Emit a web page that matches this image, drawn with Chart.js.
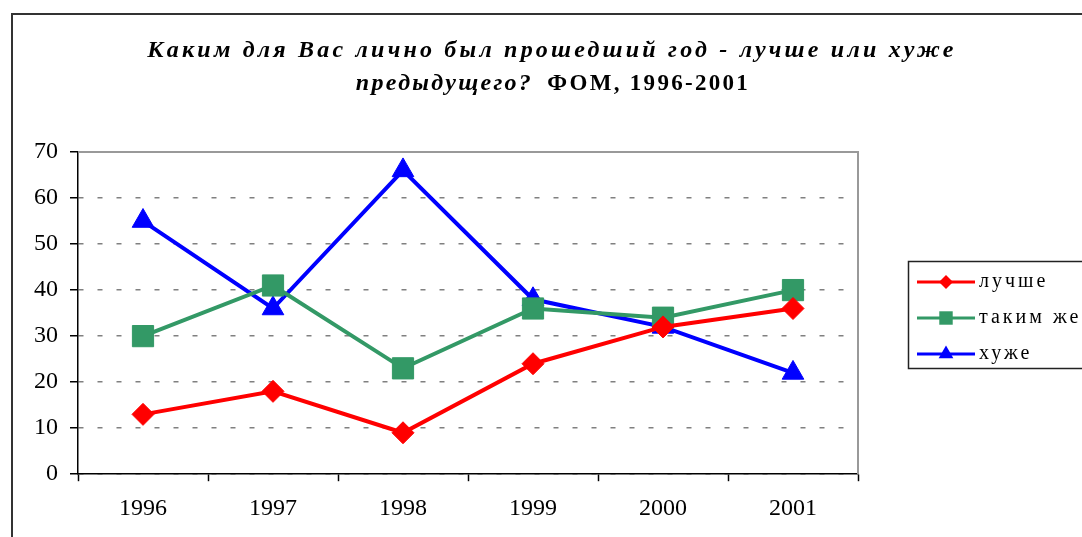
<!DOCTYPE html>
<html>
<head>
<meta charset="utf-8">
<script src="https://cdn.jsdelivr.net/npm/chart.js@4.4.1/dist/chart.umd.min.js"></script>
<style>
  html, body { margin: 0; padding: 0; background: #fff; overflow: hidden; }
  #frame { position: absolute; left: 11px; top: 13px; width: 1100px; height: 560px; border: 2px solid #333; box-sizing: border-box; }
  #wrap { position: absolute; left: 0; top: 0; width: 1082px; height: 537px; }
</style>
</head>
<body>
<div id="frame"></div>
<div id="wrap"><canvas id="chart"></canvas></div>
<script>
// данные ФОМ, 1996-2001 (в процентах)
const YEARS = ['1996', '1997', '1998', '1999', '2000', '2001'];
const BETTER = [13, 18, 9, 24, 32, 36];   // лучше
const SAME = [30, 41, 23, 36, 34, 40];    // таким же
const WORSE = [55, 36, 66, 38, 32, 22];   // хуже
const SERIES_NAMES = ['лучше', 'таким же', 'хуже'];
const Y_MIN = 0, Y_MAX = 70, Y_STEP = 10;

const TITLE_LINE1 = 'Каким для Вас лично был прошедший год - лучше или хуже';
const TITLE_LINE2A = 'предыдущего?';
const TITLE_LINE2B = 'ФОМ, 1996-2001';

const SERIF = '"Liberation Serif", "Times New Roman", serif';

// заголовок с разрядкой букв
const titlePlugin = {
    id: 'spacedTitle',
    afterDraw(chart) {
        const ctx = chart.ctx;
        ctx.save();
        ctx.fillStyle = '#000';
        ctx.textBaseline = 'alphabetic';
        ctx.textAlign = 'center';
        ctx.letterSpacing = '3.2px';
        ctx.font = 'italic bold 24px ' + SERIF;
        ctx.fillText(TITLE_LINE1, 552, 57);

        ctx.textAlign = 'left';
        ctx.letterSpacing = '2.3px';
        ctx.font = 'italic bold 24px ' + SERIF;
        const wa = ctx.measureText(TITLE_LINE2A).width;
        ctx.font = 'bold 23px ' + SERIF;
        const wb = ctx.measureText(TITLE_LINE2B).width;
        const gap = 14;
        let x = 553 - (wa + gap + wb) / 2;
        ctx.font = 'italic bold 24px ' + SERIF;
        ctx.fillText(TITLE_LINE2A, x, 90);
        ctx.font = 'bold 23px ' + SERIF;
        ctx.fillText(TITLE_LINE2B, x + wa + gap, 90);
        ctx.restore();
    }
};

// рамка области построения (верх и право — серые)
const framePlugin = {
    id: 'plotFrame',
    beforeDatasetsDraw(chart) {
        const { ctx, chartArea: a } = chart;
        ctx.save();
        ctx.strokeStyle = '#999';
        ctx.lineWidth = 2;
        ctx.beginPath();
        ctx.moveTo(a.left, a.top);
        ctx.lineTo(a.right, a.top);
        ctx.lineTo(a.right, a.bottom);
        ctx.stroke();
        ctx.restore();
    }
};

// легенда в рамке справа
const legendPlugin = {
    id: 'boxLegend',
    afterDraw(chart) {
        const ctx = chart.ctx;
        ctx.save();
        ctx.strokeStyle = '#222';
        ctx.lineWidth = 1.5;
        ctx.strokeRect(908.5, 261.5, 200, 107);
        chart.data.datasets.forEach((ds, i) => {
            const y = 282 + i * 36;
            ctx.strokeStyle = ds.borderColor;
            ctx.lineWidth = 3;
            ctx.beginPath();
            ctx.moveTo(917, y);
            ctx.lineTo(975, y);
            ctx.stroke();
            ctx.fillStyle = ds.borderColor;
            Chart.helpers.drawPoint(ctx, { pointStyle: ds.pointStyle, radius: ds.legendRadius, rotation: 0, borderWidth: 0 }, 946, y);
            ctx.fillStyle = '#000';
            ctx.font = '20px ' + SERIF;
            ctx.letterSpacing = '3px';
            ctx.textBaseline = 'middle';
            ctx.textAlign = 'left';
            ctx.fillText(ds.label, 979, y);
        });
        ctx.restore();
    }
};

new Chart(document.getElementById('chart'), {
    type: 'line',
    data: {
        labels: YEARS,
        datasets: [
            { label: SERIES_NAMES[0], data: BETTER, borderColor: '#FF0000', backgroundColor: '#FF0000',
              pointStyle: 'rectRot', pointRadius: 11, legendRadius: 7, borderWidth: 4, pointBorderWidth: 1 },
            { label: SERIES_NAMES[1], data: SAME, borderColor: '#339966', backgroundColor: '#339966',
              pointStyle: 'rect', pointRadius: 15, legendRadius: 9.5, borderWidth: 4, pointBorderWidth: 1 },
            { label: SERIES_NAMES[2], data: WORSE, borderColor: '#0000FF', backgroundColor: '#0000FF',
              pointStyle: 'triangle', pointRadius: 12.5, legendRadius: 8.5, borderWidth: 4, pointBorderWidth: 1 },
        ],
    },
    options: {
        responsive: true,
        maintainAspectRatio: false,
        animation: false,
        layout: { padding: { left: 22, top: 152, right: 224, bottom: 1 } },
        plugins: { legend: { display: false }, title: { display: false }, tooltip: { enabled: false } },
        elements: { line: { tension: 0 } },
        scales: {
            x: {
                offset: true,
                grid: { offset: true, drawOnChartArea: false, tickLength: 7, tickColor: '#000', tickWidth: 1.5 },
                border: { color: '#000', width: 1.5 },
                ticks: { color: '#000', font: { family: SERIF, size: 24 }, padding: 13, maxRotation: 0 },
            },
            y: {
                min: Y_MIN, max: Y_MAX,
                grid: { color: '#808080', lineWidth: 1.5, tickLength: 8, tickColor: '#000', tickWidth: 1.5 },
                border: { color: '#000', width: 1.5, dash: [5, 14] },
                ticks: { stepSize: Y_STEP, color: '#000', font: { family: SERIF, size: 24 }, padding: 12 },
            },
        },
    },
    plugins: [titlePlugin, framePlugin, legendPlugin],
});
</script>
</body>
</html>
